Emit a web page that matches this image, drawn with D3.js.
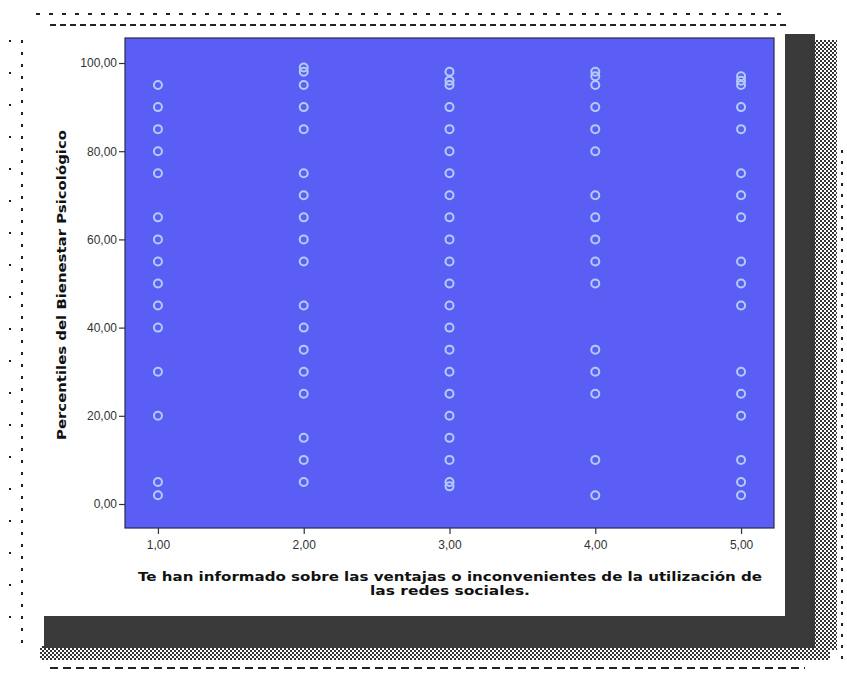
<!DOCTYPE html>
<html><head><meta charset="utf-8">
<script src="https://cdn.jsdelivr.net/npm/d3@7"></script>
<style>body{margin:0;background:#fff}svg{display:block}</style>
</head><body>
<svg id="c" width="847" height="675"></svg>
<script>
const categories = [1, 2, 3, 4, 5];
const values1 = [95, 90, 85, 80, 75, 65, 60, 55, 50, 45, 40, 30, 20, 5, 2];
const values2 = [99, 98, 95, 90, 85, 75, 70, 65, 60, 55, 45, 40, 35, 30, 25, 15, 10, 5];
const values3 = [98, 96, 95, 90, 85, 80, 75, 70, 65, 60, 55, 50, 45, 40, 35, 30, 25, 20, 15, 10, 5, 4];
const values4 = [98, 97, 95, 90, 85, 80, 70, 65, 60, 55, 50, 35, 30, 25, 10, 2];
const values5 = [97, 96, 95, 90, 85, 75, 70, 65, 55, 50, 45, 30, 25, 20, 10, 5, 2];
const seriesValues = [values1, values2, values3, values4, values5];
const yTicks = [0, 20, 40, 60, 80, 100];
const xTitle1 = "Te han informado sobre las ventajas o inconvenientes de la utilización de";
const xTitle2 = "las redes sociales.";
const yTitle = "Percentiles del Bienestar Psicológico";

const svg = d3.select("#c");
const fmt = v => d3.format(".2f")(v).replace(".", ",");

// decorative frame / shadow
const defs = svg.append("defs");
const pat = defs.append("pattern").attr("id","dith").attr("width",4).attr("height",4).attr("patternUnits","userSpaceOnUse");
pat.append("rect").attr("width",2).attr("height",2).attr("fill","#333");
pat.append("rect").attr("x",2).attr("y",2).attr("width",2).attr("height",2).attr("fill","#333");
svg.append("rect").attr("x",815).attr("y",40).attr("width",22).attr("height",610).attr("fill","url(#dith)");
svg.append("rect").attr("x",40).attr("y",646).attr("width",790).attr("height",14).attr("fill","url(#dith)");
svg.append("rect").attr("x",785).attr("y",34).attr("width",30).attr("height",614).attr("fill","#3a3a3a");
svg.append("rect").attr("x",44).attr("y",616).attr("width",771).attr("height",32).attr("fill","#3a3a3a");
const dash = (x1,y1,x2,y2,da) => svg.append("line").attr("x1",x1).attr("y1",y1).attr("x2",x2).attr("y2",y2)
  .attr("stroke","#222").attr("stroke-width",2).attr("stroke-dasharray",da);
dash(36,14,790,14,"4,9");
dash(50,25,790,25,"6,4");
dash(22,40,22,650,"3,9");
dash(10,40,10,640,"2,30");
dash(50,668,805,668,"8,5");
dash(842,150,842,660,"3,8");

// plot
const px0 = 125, px1 = 774, py0 = 38, py1 = 528;
const x = d3.scaleLinear().domain([0.774, 5.226]).range([px0, px1]);
const y = d3.scaleLinear().domain([-5.44, 105.67]).range([py1, py0]);

svg.append("rect").attr("x",px0).attr("y",py0).attr("width",px1-px0).attr("height",py1-py0)
  .attr("fill","#5b5ef5").attr("stroke","#2a2a4a").attr("stroke-width",1.2);

const yAxis = svg.append("g").attr("transform",`translate(${px0},0)`)
  .call(d3.axisLeft(y).tickValues(yTicks).tickFormat(fmt).tickSize(6).tickPadding(2));
const xAxis = svg.append("g").attr("transform",`translate(0,${py1})`)
  .call(d3.axisBottom(x).tickValues(categories).tickFormat(fmt).tickSize(6).tickPadding(6));
[yAxis, xAxis].forEach(a => {
  a.select(".domain").remove();
  a.selectAll("line").attr("stroke","#333").attr("stroke-width",1.2);
  a.selectAll("text").attr("font-family","Liberation Sans, Arial").attr("font-size",12).attr("fill","#333");
});

const pts = [];
seriesValues.forEach((vals, i) => vals.forEach(v => pts.push({c: categories[i], v})));
svg.append("g").selectAll("circle").data(pts).join("circle")
  .attr("cx", d => x(d.c)).attr("cy", d => y(d.v)).attr("r", 4)
  .attr("fill","none").attr("stroke","#b3cbf7").attr("stroke-width",2);

// titles
const tfont = sel => sel.attr("font-family","DejaVu Sans, Verdana").attr("font-weight","bold")
  .attr("font-size",13).attr("fill","#111").attr("lengthAdjust","spacingAndGlyphs");
svg.append("text").attr("transform","translate(66,285) rotate(-90)").attr("text-anchor","middle")
  .call(tfont).attr("textLength",310).text(yTitle);
svg.append("text").attr("x",450).attr("y",581).attr("text-anchor","middle")
  .call(tfont).attr("textLength",624).text(xTitle1);
svg.append("text").attr("x",450).attr("y",595).attr("text-anchor","middle")
  .call(tfont).attr("textLength",160).text(xTitle2);
</script>
</body></html>
